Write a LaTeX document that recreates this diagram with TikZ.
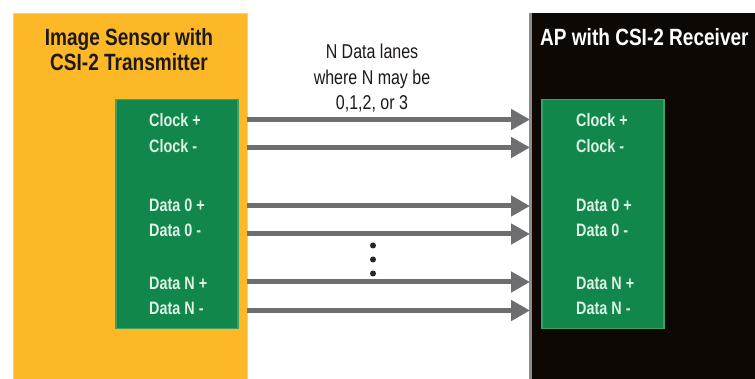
\documentclass[tikz,border=0pt]{standalone}
\usepackage{fontspec}
\setmainfont{Liberation Sans}
\newfontfamily\condb[FakeStretch=0.81]{Liberation Sans}
\newfontfamily\condl[FakeStretch=0.80]{Liberation Sans}
\newfontfamily\condr[FakeStretch=0.80]{Liberation Sans}
\usetikzlibrary{arrows.meta}
\definecolor{sensoryellow}{RGB}{252,184,38}
\definecolor{sensoredge}{RGB}{253,208,110}
\definecolor{apblack}{RGB}{13,8,4}
\definecolor{apedge}{RGB}{140,140,140}
\definecolor{pingreen}{RGB}{17,135,76}
\definecolor{pinedge}{RGB}{60,160,105}
\definecolor{pintext}{RGB}{222,242,228}
\definecolor{lanegray}{RGB}{110,110,112}
\definecolor{titledark}{RGB}{30,25,25}
\tikzset{
  lane/.style={draw=lanegray, line width=5pt, -{Triangle[length=19pt,width=20pt]}},
  pinbox/.style={draw=pinedge, line width=1.5pt, fill=pingreen, anchor=north west, inner sep=0pt},
  pinlabel/.style={anchor=base west, inner sep=0pt, text=pintext, font=\condl\bfseries\fontsize{18}{20}\selectfont},
  title/.style={inner sep=0pt, font=\condb\bfseries\fontsize{23.5}{25}\selectfont},
  note/.style={inner sep=0pt, anchor=base, text=titledark, font=\condr\fontsize{20}{25}\selectfont},
  dotmark/.style={circle, fill=black!85, inner sep=0pt, minimum size=6pt}
}
\begin{document}
\begin{tikzpicture}[x=1pt,y=-1pt]
\useasboundingbox (0,0) rectangle (755,379);
\fill[white] (0,0) rectangle (755,379);
% blocks
\node[draw=sensoredge, line width=1.5pt, fill=sensoryellow, anchor=north west, minimum width=234pt, minimum height=380pt, inner sep=0pt] (sensor) at (12.5,13) {};
\fill[apedge] (529,13) rectangle (533,390);
\node[fill=apblack, anchor=north west, minimum width=230pt, minimum height=380pt, inner sep=0pt] (ap) at (532,13) {};
% titles
\node[title, anchor=base, text=titledark] (t1) at (129,46) {Image Sensor with};
\node[title, anchor=base, text=titledark] (t2) at (129,71) {CSI-2 Transmitter};
\node[title, anchor=base west, text=white] (t3) at (540,45.5) {AP with CSI-2 Receiver};
% pin boxes
\node[pinbox, minimum width=122pt, minimum height=229pt] (txbox) at (115,99) {};
\node[pinbox, minimum width=122pt, minimum height=229pt] (rxbox) at (541,99) {};
% labels
\node[pinlabel] (tx1) at (149,126.5) {Clock +};
\node[pinlabel] (tx2) at (149,152.5) {Clock -};
\node[pinlabel] (tx3) at (149,211.5) {Data 0 +};
\node[pinlabel] (tx4) at (149,236.5) {Data 0 -};
\node[pinlabel] (tx5) at (149,290) {Data N +};
\node[pinlabel] (tx6) at (149,315) {Data N -};
\node[pinlabel] (rx1) at (576,126.5) {Clock +};
\node[pinlabel] (rx2) at (576,152.5) {Clock -};
\node[pinlabel] (rx3) at (576,211.5) {Data 0 +};
\node[pinlabel] (rx4) at (576,236.5) {Data 0 -};
\node[pinlabel] (rx5) at (576,290) {Data N +};
\node[pinlabel] (rx6) at (576,315) {Data N -};
% note
\node[note] (n1) at (372,59) {N Data lanes};
\node[note] (n2) at (372,84.5) {where N may be};
\node[note] (n3) at (372,109.5) {0,1,2, or 3};
% lanes
\foreach \i/\yy in {1/119.5,2/147.5,3/206,4/234,5/282,6/310.5}{
  \coordinate (a\i) at (247,\yy);
  \coordinate (b\i) at (530,\yy);
  \draw[lane] (a\i) -- (b\i);
}
% dots
\node[dotmark] (d1) at (373,245.5) {};
\node[dotmark] (d2) at (373,259.5) {};
\node[dotmark] (d3) at (373,273.5) {};
\end{tikzpicture}
\end{document}
